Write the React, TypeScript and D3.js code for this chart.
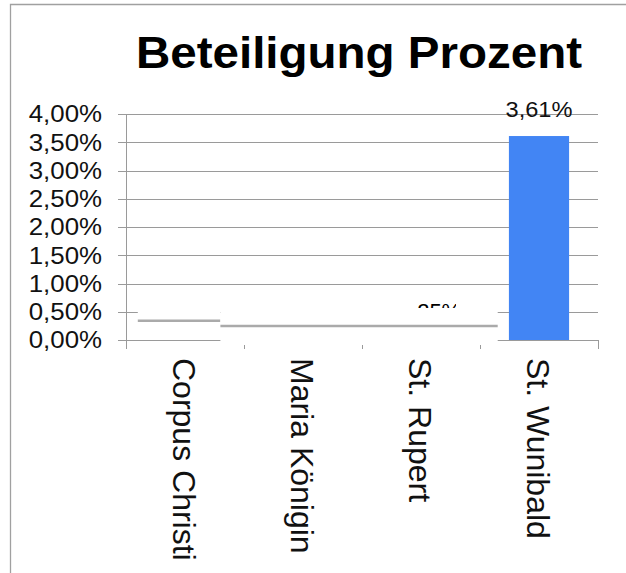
import { useRef, useEffect } from 'react';
import * as d3 from 'd3';

const categories: string[] = ['Corpus Christi', 'Maria Königin', 'St. Rupert', 'St. Wunibald'];
const values: number[] = [0.34, 0.25, 0.25, 3.61];
const yTicks: number[] = [0, 0.5, 1, 1.5, 2, 2.5, 3, 3.5, 4];
const title = 'Beteiligung Prozent';

const fmt = (v: number) => v.toFixed(2).replace('.', ',') + '%';

export default function App() {
  const ref = useRef<SVGSVGElement | null>(null);

  useEffect(() => {
    if (!ref.current) return;
    const W = 626;
    const H = 573;
    const svg = d3.select(ref.current).attr('width', W).attr('height', H);
    svg.selectAll('*').remove();

    const left = 126;
    const right = 598;
    const top = 114;
    const bottom = 340;
    const font = '"Liberation Sans", Arial, sans-serif';
    const stretch = 1.1; // source text renders wider than Arial

    const x = d3.scaleBand<string>().domain(categories).range([left, right]).padding(0);
    const xIdx = d3.scaleLinear().domain([0, categories.length]).range([left, right]);
    const y = d3.scaleLinear().domain([0, 4]).range([bottom, top]);

    // frame
    svg.append('path')
      .attr('d', `M10.5,${H} V4.5 H${W}`)
      .attr('fill', 'none')
      .attr('stroke', '#a0a0a0')
      .attr('stroke-width', 1.3);

    // title
    svg.append('text')
      .attr('transform', 'translate(359,68) scale(1.08,1)')
      .attr('text-anchor', 'middle')
      .attr('font-family', font)
      .attr('font-weight', 'bold')
      .attr('font-size', 44)
      .text(title);

    // gridlines
    svg.selectAll('line.grid')
      .data(yTicks)
      .enter()
      .append('line')
      .attr('x1', left - 8)
      .attr('x2', right)
      .attr('y1', (d) => Math.round(y(d)) + 0.5)
      .attr('y2', (d) => Math.round(y(d)) + 0.5)
      .attr('stroke', '#9a9a9a')
      .attr('stroke-width', 1);

    // y labels
    svg.selectAll('text.ylab')
      .data(yTicks)
      .enter()
      .append('text')
      .attr('transform', (d) => `translate(${left - 24},${y(d)}) scale(${stretch},1)`)
      .attr('dy', '0.36em')
      .attr('text-anchor', 'end')
      .attr('font-family', font)
      .attr('font-size', 23.5)
      .attr('fill', '#111')
      .text((d) => fmt(d));

    // y axis line
    svg.append('line')
      .attr('x1', left + 0.5).attr('x2', left + 0.5)
      .attr('y1', top).attr('y2', bottom + 9)
      .attr('stroke', '#9a9a9a');

    // x ticks at band boundaries
    const bounds = categories.map((c) => x(c) || 0).concat([right]);
    svg.selectAll('line.xt')
      .data(bounds)
      .enter()
      .append('line')
      .attr('x1', (d) => Math.round(d) + 0.5)
      .attr('x2', (d) => Math.round(d) + 0.5)
      .attr('y1', bottom)
      .attr('y2', bottom + 9)
      .attr('stroke', '#9a9a9a');

    // small values are drawn as grey strokes on white patches (as in the source render)
    const segs = [
      { i: 0, a: 0.1, b: 0.8, y0: y(0.5) - 1, y1: y(0) - 1 },
      { i: 1, a: 0.8, b: 3.15, y0: y(0.5) - 5, y1: y(0) + 5 },
    ];
    segs.forEach((s) => {
      svg.append('rect')
        .attr('x', xIdx(s.a))
        .attr('y', s.y0)
        .attr('width', xIdx(s.b) - xIdx(s.a))
        .attr('height', s.y1 - s.y0)
        .attr('fill', '#fff');
      svg.append('line')
        .attr('x1', xIdx(s.a))
        .attr('x2', xIdx(s.b))
        .attr('y1', y(values[s.i]))
        .attr('y2', y(values[s.i]))
        .attr('stroke', '#aaaaaa')
        .attr('stroke-width', 2.5);
    });

    // partly hidden label of St. Rupert
    const clipId = 'lblclip';
    svg.append('clipPath')
      .attr('id', clipId)
      .append('rect')
      .attr('x', (x(categories[2]) || 0) + 50)
      .attr('y', y(values[2]) - 23)
      .attr('width', 44)
      .attr('height', 5);
    svg.append('text')
      .attr('clip-path', `url(#${clipId})`)
      .attr('x', (x(categories[2]) || 0) + x.bandwidth() / 2 + 9)
      .attr('y', y(values[2]) - 7)
      .attr('text-anchor', 'middle')
      .attr('font-family', font)
      .attr('font-size', 22)
      .text(fmt(values[2]));

    // big bar
    const bw = x.bandwidth() * 0.51;
    svg.append('rect')
      .attr('x', (x(categories[3]) || 0) + (x.bandwidth() - bw) / 2)
      .attr('y', y(values[3]))
      .attr('width', bw)
      .attr('height', y(0) - y(values[3]))
      .attr('fill', '#4285f4');

    svg.append('text')
      .attr('transform', `translate(${(x(categories[3]) || 0) + x.bandwidth() / 2},${y(values[3]) - 19}) scale(1.05,1)`)
      .attr('text-anchor', 'middle')
      .attr('font-family', font)
      .attr('font-size', 22.5)
      .attr('fill', '#111')
      .text(fmt(values[3]));

    // category labels, rotated
    svg.selectAll('text.cat')
      .data(categories)
      .enter()
      .append('text')
      .attr('transform', (d) => `translate(${(x(d) || 0) + x.bandwidth() / 2},358) rotate(90)`)
      .attr('dy', '0.36em')
      .attr('text-anchor', 'start')
      .attr('font-family', font)
      .attr('font-size', 32)
      .attr('fill', '#111')
      .text((d) => d);
  }, []);

  return (
    <div>
      <svg ref={ref} style={{ position: 'absolute', left: 0, top: 0 }}></svg>
    </div>
  );
}
